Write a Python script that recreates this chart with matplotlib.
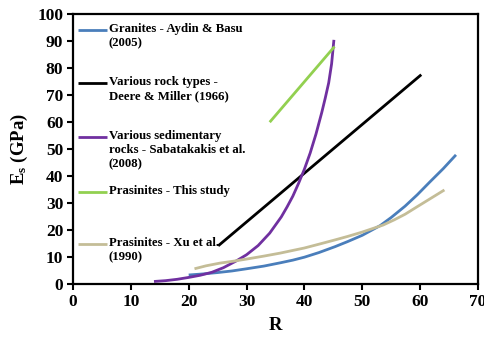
import matplotlib
matplotlib.use("Agg")
import matplotlib.pyplot as plt
from matplotlib.lines import Line2D

# values (R, Es in GPa)
granR = [20, 22.5, 25, 27.5, 30, 33, 35.8, 38, 40, 42.5, 45.3, 47.5, 50, 53.1, 55, 57.4, 59.5, 61.7, 64, 66.2]
granE = [3.3, 3.7, 4.2, 4.8, 5.6, 6.6, 7.8, 8.8, 9.9, 11.6, 13.8, 15.7, 18.0, 21.6, 24.6, 28.8, 33.0, 37.8, 42.7, 47.8]

deereR = [25.1, 60.2]
deereE = [14.1, 77.5]

sabR = [14, 16, 18, 20, 22, 24, 26, 28.3, 30, 32, 34, 36, 37, 38, 39, 40, 41, 42, 43, 43.6, 44.2, 44.7, 45.1]
sabE = [0.9, 1.2, 1.7, 2.4, 3.2, 4.3, 6.0, 8.6, 10.8, 14.2, 18.8, 24.8, 28.5, 32.5, 37.3, 42.5, 48.5, 55.5, 63.5, 68.8, 74.5, 81.5, 90.4]

prasR = [34, 45.2]
prasE = [59.9, 87.9]

xuR = [21, 23, 25.4, 28, 30, 33, 35.8, 38, 40, 42.5, 45.3, 47.5, 50, 53.6, 55.5, 57.4, 59.5, 61.7, 64.2]
xuE = [5.6, 6.7, 7.7, 8.5, 9.2, 10.3, 11.4, 12.4, 13.3, 14.7, 16.3, 17.6, 19.2, 21.8, 23.7, 25.8, 28.6, 31.5, 34.8]

labels = [
    "Granites - Aydin & Basu\n(2005)",
    "Various rock types -\nDeere & Miller (1966)",
    "Various sedimentary\nrocks - Sabatakakis et al.\n(2008)",
    "Prasinites - This study",
    "Prasinites - Xu et al.\n(1990)",
]
colors = ["#4A7EBB", "#000000", "#7030A0", "#92D050", "#C4BD97"]

plt.rcParams["font.family"] = "Liberation Serif"
plt.rcParams["font.weight"] = "bold"
plt.rcParams["mathtext.fontset"] = "custom"
plt.rcParams["mathtext.rm"] = "Liberation Serif:bold"
plt.rcParams["mathtext.it"] = "Liberation Serif:bold"
plt.rcParams["mathtext.bf"] = "Liberation Serif:bold"

fig = plt.figure(figsize=(4.85, 3.4), dpi=100)
ax = fig.add_axes([0.1505, 0.165, 0.835, 0.794])

series = [(granR, granE), (deereR, deereE), (sabR, sabE), (prasR, prasE), (xuR, xuE)]
for (r, e), c in zip(series, colors):
    ax.plot(r, e, color=c, lw=2.0, solid_capstyle="butt", solid_joinstyle="round")

ax.set_xlim(0, 70)
ax.set_ylim(0, 100)
ax.set_xticks(range(0, 71, 10))
ax.set_yticks(range(0, 101, 10))
ax.tick_params(direction="out", length=4, width=1.5, labelsize=12.5, pad=3)
for lab in ax.get_xticklabels() + ax.get_yticklabels():
    lab.set_fontweight("bold")
for sp in ax.spines.values():
    sp.set_linewidth(1.6)

ax.set_xlabel("R", fontsize=13.5, fontweight="bold", labelpad=5)
ax.set_ylabel(r"E$_\mathregular{s}$ (GPa)", fontsize=13.5, fontweight="bold", labelpad=5)

# hand-placed legend, handle centred on the first text line
leg_y = [0.941, 0.744, 0.544, 0.341, 0.148]
for y, c, t in zip(leg_y, colors, labels):
    ax.add_line(Line2D([0.012, 0.084], [y, y], transform=ax.transAxes,
                       color=c, lw=2.0, solid_capstyle="butt"))
    ax.text(0.088, y + 0.026, t, transform=ax.transAxes, ha="left", va="top",
            fontsize=9.2, fontweight="bold", linespacing=1.25)

fig.savefig("out.png", dpi=100)
